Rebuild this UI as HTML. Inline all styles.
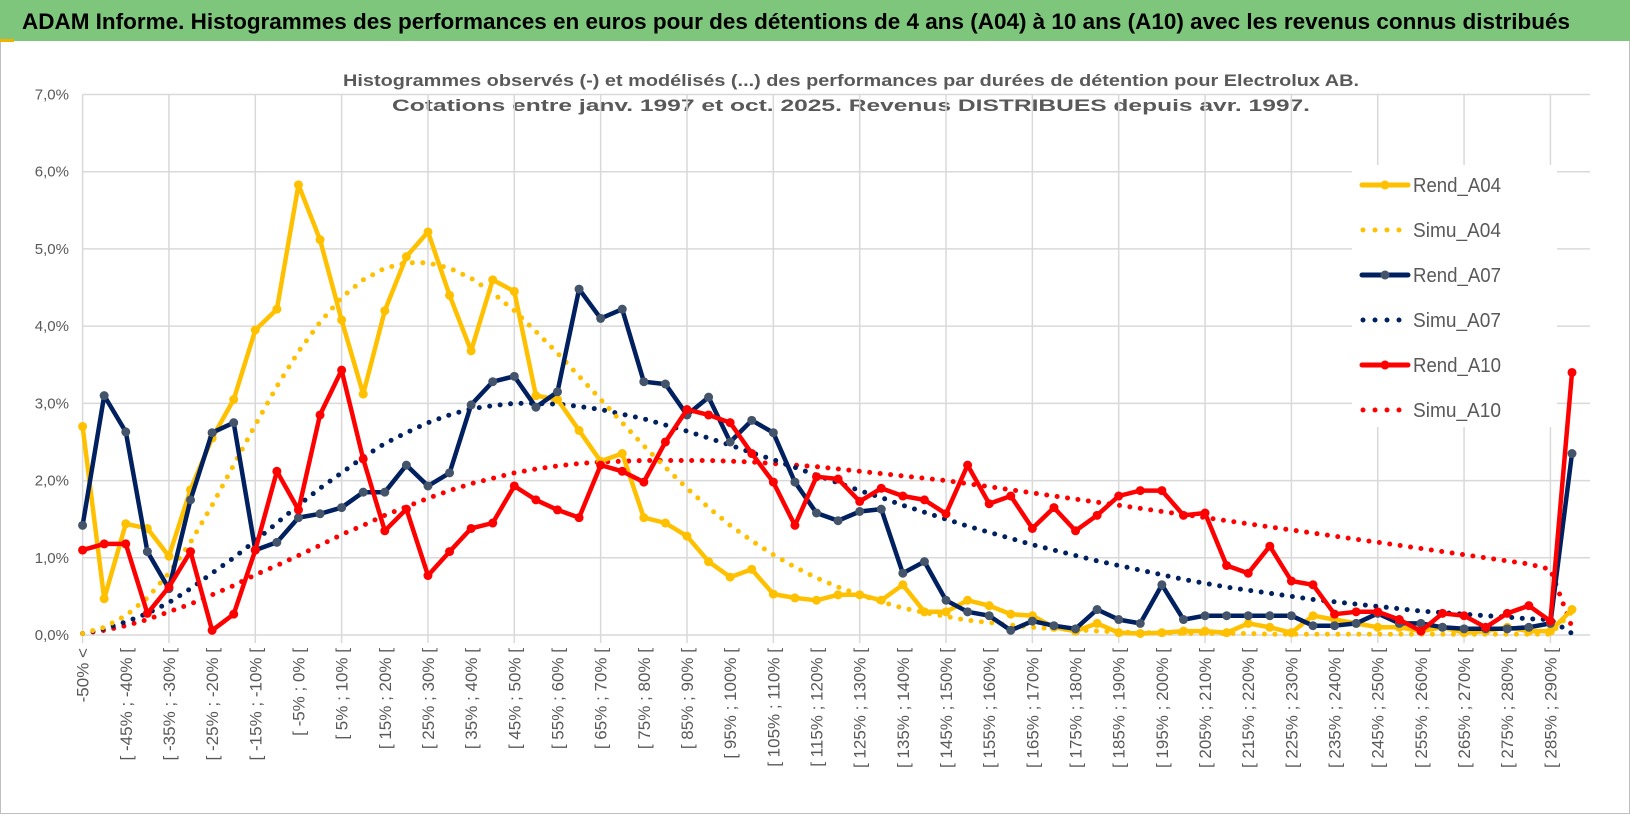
<!DOCTYPE html>
<html><head><meta charset="utf-8">
<style>
html,body{margin:0;padding:0;background:#fff;}
svg{display:block;font-family:"Liberation Sans",sans-serif;}
</style></head>
<body>
<svg id="chart" width="1630" height="815" viewBox="0 0 1630 815" xmlns="http://www.w3.org/2000/svg">
  <rect x="0.5" y="0.5" width="1629" height="813" fill="#fff" stroke="#bfbfbf"/>
  <rect x="0" y="0" width="1630" height="41" fill="#7dc67c"/>
  <rect x="0" y="39" width="14" height="3" fill="#f0b400"/>
  <text x="22" y="29" font-size="22" font-weight="bold" fill="#000" textLength="1548" lengthAdjust="spacingAndGlyphs">ADAM Informe. Histogrammes des performances en euros pour des détentions de 4 ans (A04) à 10 ans (A10) avec les revenus connus distribués</text>
  <text x="343" y="86" font-size="17" font-weight="bold" fill="#595959" textLength="1016" lengthAdjust="spacingAndGlyphs">Histogrammes observés (-) et modélisés (...) des performances par durées de détention pour Electrolux AB.</text>
  <text x="392" y="111" font-size="17" font-weight="bold" fill="#595959" textLength="918" lengthAdjust="spacingAndGlyphs">Cotations entre janv. 1997 et oct. 2025. Revenus DISTRIBUES depuis avr. 1997.</text>
  <g id="grid"></g>
  <g id="yaxis"></g>
  <g id="xaxis"></g>
  <g id="legendbg"></g>
  <g id="series"></g>
  <g id="legend"></g>
</svg>
<script>
const rendA04 = [2.7,0.47,1.44,1.38,1.02,1.88,2.55,3.05,3.95,4.22,5.83,5.12,4.08,3.12,4.2,4.9,5.22,4.4,3.68,4.6,4.45,3.1,3.05,2.65,2.25,2.35,1.52,1.45,1.28,0.95,0.75,0.85,0.53,0.48,0.45,0.52,0.52,0.45,0.65,0.3,0.3,0.45,0.38,0.27,0.25,0.1,0.05,0.15,0.03,0.02,0.03,0.05,0.05,0.03,0.15,0.1,0.03,0.25,0.2,0.15,0.1,0.1,0.05,0.1,0.03,0.05,0.1,0.05,0.05,0.33];
const rendA07 = [1.42,3.1,2.63,1.08,0.6,1.75,2.62,2.75,1.1,1.2,1.52,1.57,1.65,1.85,1.85,2.2,1.93,2.1,2.98,3.28,3.35,2.95,3.15,4.48,4.1,4.22,3.28,3.25,2.85,3.08,2.5,2.78,2.62,1.98,1.58,1.48,1.6,1.63,0.8,0.95,0.45,0.3,0.25,0.06,0.18,0.12,0.08,0.33,0.2,0.15,0.65,0.2,0.25,0.25,0.25,0.25,0.25,0.12,0.12,0.15,0.28,0.15,0.15,0.1,0.08,0.08,0.08,0.1,0.15,2.35];
const rendA10 = [1.1,1.18,1.18,0.28,0.62,1.08,0.06,0.27,1.1,2.12,1.62,2.85,3.43,2.28,1.35,1.63,0.77,1.08,1.38,1.45,1.93,1.75,1.62,1.52,2.2,2.12,1.98,2.5,2.92,2.85,2.75,2.35,1.98,1.42,2.05,2.02,1.73,1.9,1.8,1.75,1.57,2.2,1.7,1.8,1.38,1.65,1.35,1.55,1.8,1.87,1.87,1.55,1.58,0.9,0.8,1.15,0.7,0.65,0.27,0.3,0.3,0.2,0.05,0.28,0.25,0.1,0.28,0.38,0.18,3.4];
const simuA04 = [0.02,0.1,0.25,0.48,0.8,1.2,1.68,2.2,2.72,3.22,3.67,4.05,4.37,4.6,4.75,4.82,4.82,4.75,4.62,4.43,4.2,3.93,3.65,3.35,3.05,2.75,2.45,2.17,1.9,1.65,1.42,1.22,1.04,0.88,0.74,0.62,0.52,0.43,0.35,0.29,0.24,0.19,0.16,0.13,0.1,0.08,0.07,0.05,0.04,0.03,0.03,0.02,0.02,0.02,0.02,0.01,0.01,0.01,0.01,0.01,0.01,0.01,0.01,0.01,0.01,0.01,0.01,0.01,0.01,0.3];
const simuA07 = [0.02,0.08,0.17,0.28,0.42,0.6,0.8,1.0,1.22,1.45,1.68,1.9,2.1,2.3,2.48,2.62,2.75,2.85,2.93,2.97,3.0,3.0,2.99,2.96,2.92,2.86,2.8,2.72,2.64,2.55,2.46,2.36,2.27,2.17,2.07,1.97,1.87,1.78,1.68,1.59,1.5,1.41,1.33,1.25,1.17,1.1,1.03,0.96,0.9,0.84,0.78,0.72,0.67,0.62,0.58,0.54,0.5,0.46,0.43,0.4,0.37,0.34,0.31,0.29,0.27,0.25,0.23,0.21,0.2,0.02];
const simuA10 = [0.02,0.06,0.12,0.2,0.3,0.4,0.52,0.64,0.78,0.9,1.03,1.16,1.3,1.42,1.55,1.66,1.77,1.87,1.96,2.03,2.1,2.15,2.19,2.22,2.24,2.25,2.26,2.26,2.26,2.26,2.25,2.24,2.22,2.2,2.18,2.15,2.12,2.09,2.06,2.03,2.0,1.96,1.92,1.88,1.84,1.8,1.76,1.72,1.68,1.64,1.6,1.56,1.52,1.48,1.44,1.4,1.36,1.32,1.28,1.24,1.2,1.16,1.12,1.08,1.04,1.0,0.96,0.92,0.85,0.1];
const yTicks = [0,1,2,3,4,5,6,7];
const yTickLabels = ["0,0%","1,0%","2,0%","3,0%","4,0%","5,0%","6,0%","7,0%"];
const categories = ["-50% <"];
for (let k = 1; k < 70; k++) { const a = -50 + 5*(k-1); categories.push("[ " + a + "% ; " + (a+5) + "% ["); }
const seriesNames = ["Rend_A04","Simu_A04","Rend_A07","Simu_A07","Rend_A10","Simu_A10"];

const NS = "http://www.w3.org/2000/svg";
const X0 = 82.6, X1 = 1572, Y0 = 635, YTOP = 94.5, YMAX = 7, GRID_R = 1590;
const xScale = i => X0 + (X1 - X0) * i / (categories.length - 1);
const yScale = v => Y0 - (Y0 - YTOP) * v / YMAX;
function mk(tag, attrs, parent){ const e = document.createElementNS(NS, tag); for (const k in attrs) e.setAttribute(k, attrs[k]); parent.appendChild(e); return e; }

const grid = document.getElementById('grid');
yTicks.forEach((t) => {
  const l = mk('line', {x1:X0, x2:GRID_R, y1:yScale(t), y2:yScale(t), stroke:'#d9d9d9', 'stroke-width':1.5}, grid);
  
  
});
for (let i = 0; i < categories.length; i += 4) {
  const l = mk('line', {x1:xScale(i), x2:xScale(i), y1:YTOP, y2:Y0 + 8, stroke:'#d9d9d9', 'stroke-width':1.5}, grid);
  
  
}
const yaxis = document.getElementById('yaxis');
yTicks.forEach((t, k) => {
  const tx = mk('text', {x:69, y:yScale(t) + 5, 'text-anchor':'end', 'font-size':15, fill:'#595959'}, yaxis);
  tx.textContent = yTickLabels[k];
  
  
});
const xaxis = document.getElementById('xaxis');
categories.forEach((c, i) => {
  if (i % 2 !== 0) return;
  const x = xScale(i) + 6, y = 648;
  const tx = mk('text', {x:x, y:y, 'text-anchor':'end', 'font-size':17, fill:'#595959', transform:'rotate(-90 ' + x + ' ' + y + ')'}, xaxis);
  tx.textContent = c;
  
  
});

const lbg = document.getElementById('legendbg');
mk('rect', {x:1352, y:165, width:205, height:262, fill:'#fff'}, lbg);

const ser = document.getElementById('series');
function pathOf(arr){ return arr.map((v,i)=> (i?'L':'M') + xScale(i).toFixed(1) + ' ' + yScale(v).toFixed(1)).join(' '); }
function dotted(arr, color, name){
  const p = mk('path', {d:pathOf(arr), fill:'none', stroke:color, 'stroke-width':5, 'stroke-linecap':'round', 'stroke-dasharray':'0 10.5'}, ser);
  
  
}
function solid(arr, color, mcolor, name){
  const g = mk('g', {}, ser);
  
  
  mk('path', {d:pathOf(arr), fill:'none', stroke:color, 'stroke-width':4.5, 'stroke-linejoin':'round'}, g);
  arr.forEach((v,i)=>{
    const c = mk('circle', {cx:xScale(i), cy:yScale(v), r:4.5, fill:mcolor}, g);
    
    
  });
}
dotted(simuA10, '#ff0000', 'series-simu-a10');
dotted(simuA07, '#002060', 'series-simu-a07');
dotted(simuA04, '#ffc000', 'series-simu-a04');
solid(rendA04, '#ffc000', '#ffc000', 'series-rend-a04');
solid(rendA07, '#002060', '#44546a', 'series-rend-a07');
solid(rendA10, '#ff0000', '#ff0000', 'series-rend-a10');

const leg = document.getElementById('legend');
const legColors = ['#ffc000','#ffc000','#002060','#002060','#ff0000','#ff0000'];
const legMarker = ['#ffc000',null,'#44546a',null,'#ff0000',null];
seriesNames.forEach((n, k) => {
  const y = 185 + 45 * k;
  const g = mk('g', {}, leg);
  
  
  if (k % 2 === 0) {
    mk('line', {x1:1362, x2:1408, y1:y, y2:y, stroke:legColors[k], 'stroke-width':5, 'stroke-linecap':'round'}, g);
    mk('circle', {cx:1385, cy:y, r:4.5, fill:legMarker[k]}, g);
  } else {
    mk('line', {x1:1363, x2:1410, y1:y, y2:y, stroke:legColors[k], 'stroke-width':5, 'stroke-linecap':'round', 'stroke-dasharray':'0 12'}, g);
  }
  const t = mk('text', {x:1413, y:y + 7, 'font-size':20, fill:'#595959', textLength:88, lengthAdjust:'spacingAndGlyphs'}, g);
  t.textContent = n;
});
</script>
</body></html>
